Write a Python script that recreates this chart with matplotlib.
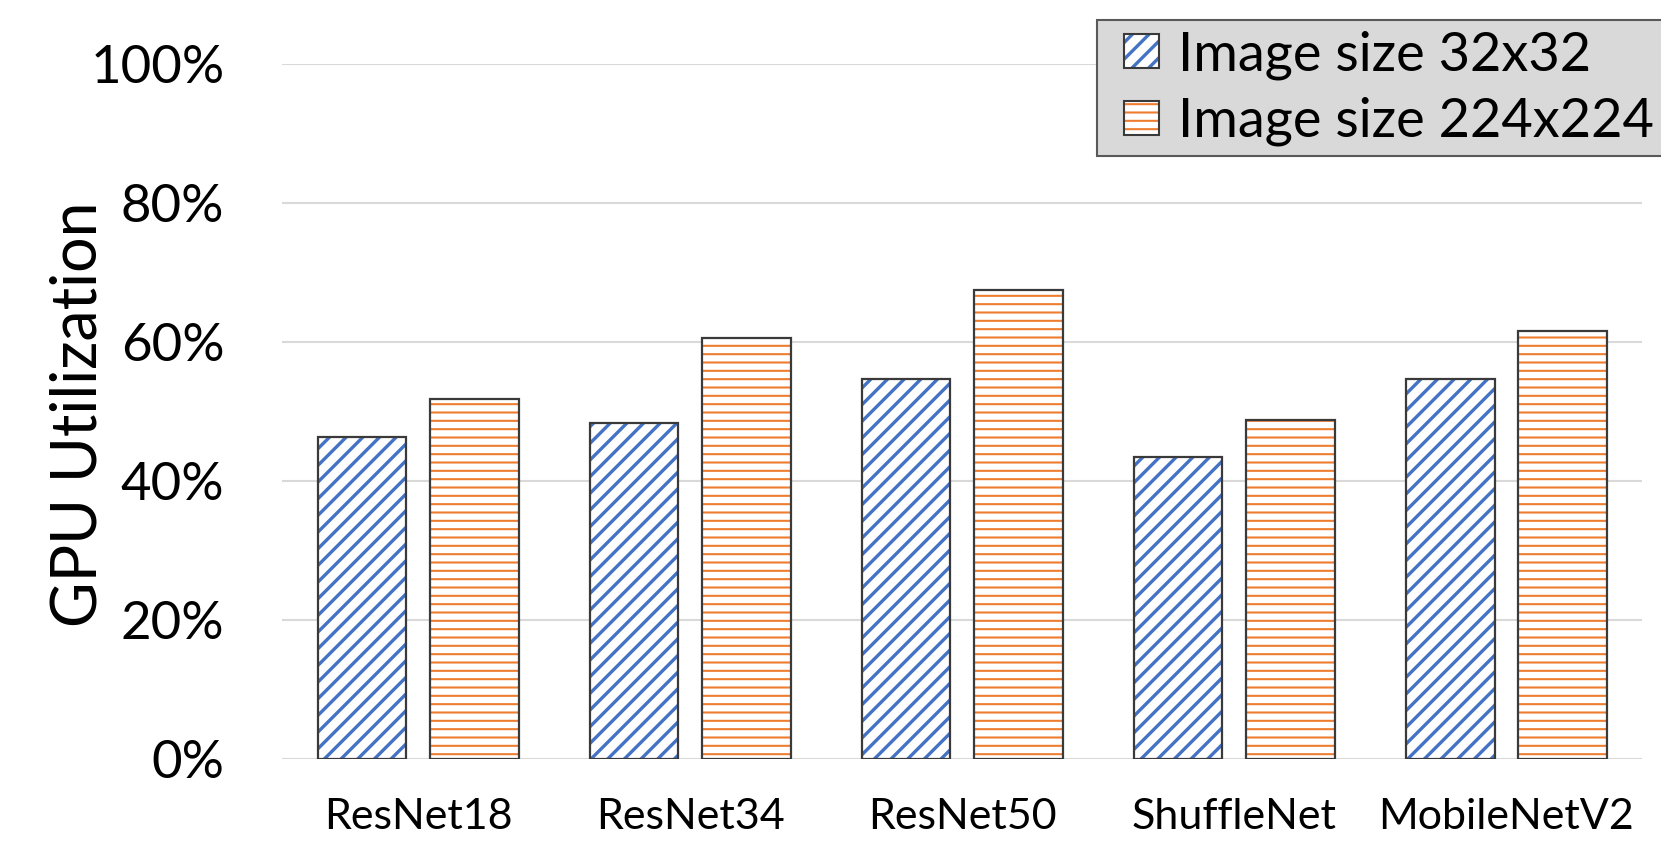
import numpy as np
import matplotlib as mpl
import matplotlib.pyplot as plt
from matplotlib.patches import Rectangle
from matplotlib.legend_handler import HandlerBase
from matplotlib.ticker import FuncFormatter

plt.rcParams['font.family'] = ['Lato', 'DejaVu Sans']

models = ['ResNet18', 'ResNet34', 'ResNet50', 'ShuffleNet', 'MobileNetV2']
small_img = [46.3, 48.3, 54.7, 43.4, 54.6]
large_img = [51.8, 60.6, 67.5, 48.8, 61.6]
series_labels = ['Image size 32x32', 'Image size 224x224']

blue = '#4472C4'
orange = '#ED7D31'
edge = '#3A3A3A'


class SquareHandle(HandlerBase):
    """Hatched square sitting at the right end of the legend handle box."""

    def create_artists(self, legend, orig_handle, xdescent, ydescent,
                       width, height, fontsize, trans):
        col, hatch, hlw = orig_handle
        s = height
        x0 = width - s - xdescent
        y0 = -ydescent
        with mpl.rc_context({'hatch.linewidth': hlw}):
            inner = Rectangle((x0, y0), s, s, facecolor='white', edgecolor=col,
                              hatch=hatch, linewidth=0, transform=trans)
        if hasattr(inner, 'set_hatch_linewidth'):
            inner.set_hatch_linewidth(hlw)
        outline = Rectangle((x0, y0), s, s, facecolor='none', edgecolor=edge,
                            linewidth=1.5, transform=trans)
        return [inner, outline]


fig = plt.figure(figsize=(16.61, 8.47), dpi=100)
ax = fig.add_axes([0.1698, 0.1043, 0.8188, 0.8205])

x = np.arange(len(models))
w = 0.327
off = w / 2 + 0.0425

# (values, offset, colour, hatch, hatch line width)
styles = [(small_img, -off, blue, '//', 2.4), (large_img, off, orange, '--', 1.5)]
handles = []
for vals, dx, col, hatch, hlw in styles:
    with mpl.rc_context({'hatch.linewidth': hlw}):
        # hatch drawn in series colour, outline drawn separately in dark grey
        bars = ax.bar(x + dx, vals, w, facecolor='white', edgecolor=col,
                      hatch=hatch, linewidth=0, zorder=2)
        ax.bar(x + dx, vals, w, facecolor='none', edgecolor=edge,
               linewidth=1.6, zorder=3)
    for p in bars:
        if hasattr(p, 'set_hatch_linewidth'):
            p.set_hatch_linewidth(hlw)
    handles.append((col, hatch, hlw))

ax.set_ylim(0, 100)
ax.set_xlim(-0.5, len(models) - 0.5)
ax.set_yticks(np.arange(0, 101, 20))
ax.yaxis.set_major_formatter(FuncFormatter(lambda v, p: '%d%%' % v))
ax.grid(axis='y', color='#D9D9D9', linewidth=1.5, zorder=0)
ax.set_axisbelow(True)
for s in ax.spines.values():
    s.set_visible(False)
ax.tick_params(axis='both', length=0)
ax.tick_params(axis='y', labelsize=38, pad=41.5)
ax.tick_params(axis='x', labelsize=31, pad=28)
ax.set_xticks(x)
ax.set_xticklabels(models)
ax.set_ylabel('GPU Utilization', fontsize=45, va='center')
ax.yaxis.set_label_coords(-0.15, 0.496)

leg = fig.legend(handles, series_labels, loc='upper right',
                 bbox_to_anchor=(1.0016, 0.976), borderaxespad=0,
                 handler_map={tuple: SquareHandle()},
                 fontsize=39, fancybox=False, framealpha=1,
                 handlelength=0.95, handleheight=0.6, handletextpad=0.36,
                 labelspacing=0.32, borderpad=0.18)
leg.get_frame().set_facecolor('#D9D9D9')
leg.get_frame().set_edgecolor('#595959')
leg.get_frame().set_linewidth(1.5)

fig.savefig('out.png', dpi=100)
